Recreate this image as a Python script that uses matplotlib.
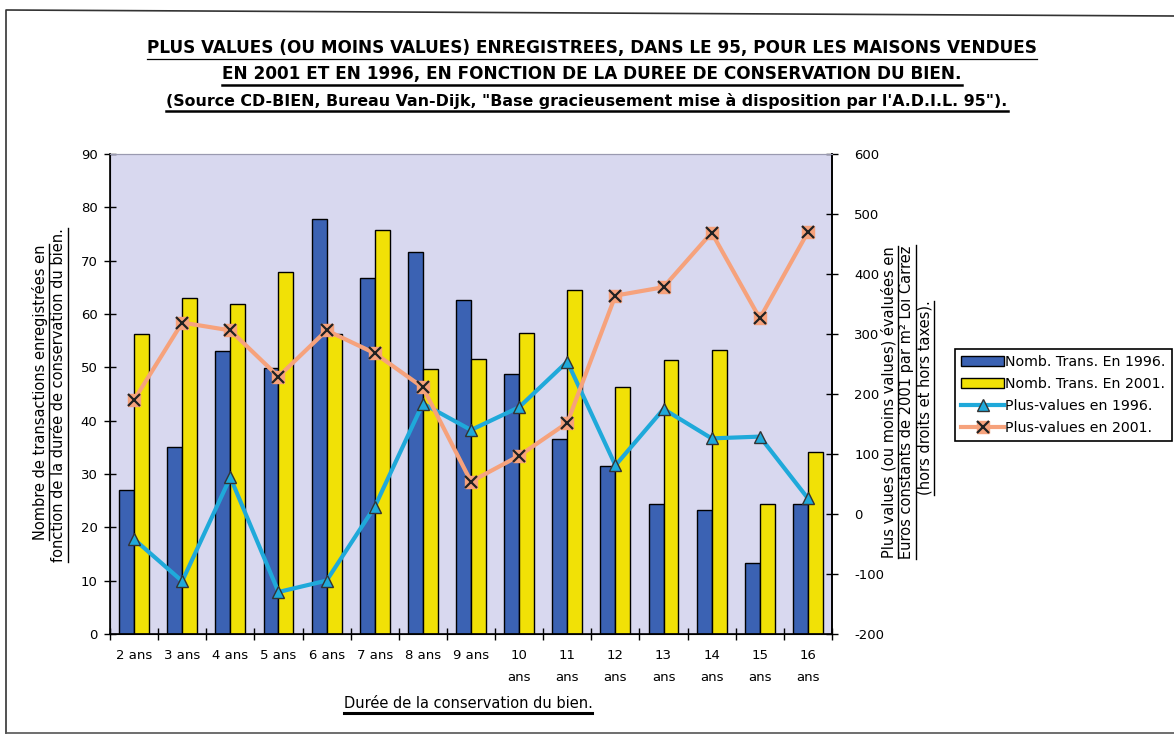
import numpy as np
import matplotlib
matplotlib.use("Agg")
import matplotlib.pyplot as plt
from matplotlib.lines import Line2D
from matplotlib.patches import Patch
from matplotlib.legend_handler import HandlerTuple

# durée de conservation (catégories de l'axe x)
categories = ["2 ans", "3 ans", "4 ans", "5 ans", "6 ans", "7 ans", "8 ans", "9 ans",
              "10\nans", "11\nans", "12\nans", "13\nans", "14\nans", "15\nans", "16\nans"]

# nombre de transactions (axe gauche)
trans_1996 = [27, 35, 53, 49.8, 77.8, 66.7, 71.7, 62.6, 48.8, 36.5, 31.5, 24.4, 23.3, 13.3, 24.3]
trans_2001 = [56.2, 63, 61.8, 67.9, 56.2, 75.8, 49.6, 51.5, 56.4, 64.5, 46.4, 51.3, 53.3, 24.3, 34.2]

# plus-values en euros constants (axe droit)
pv_1996 = [-42, -112, 61, -130, -111, 12, 184, 140, 178, 254, 81, 175, 126, 129, 26]
pv_2001 = [190, 319, 306, 229, 306, 268, 211, 54, 97, 152, 364, 378, 469, 326, 470]

W, H = 1174, 737
BLUE = "#3b62b3"
YELLOW = "#f1e106"
CYAN = "#1fa9da"
ORANGE = "#f6a27c"
BG = "#d8d8ef"

plt.rcParams["font.family"] = ["DejaVu Sans"]
plt.rcParams["axes.unicode_minus"] = False

fig = plt.figure(figsize=(W / 100, H / 100), dpi=100)
ax = fig.add_axes([110 / W, 1 - 634 / H, 722 / W, 480 / H])
ax.set_facecolor(BG)

x = np.arange(len(categories))
bw = 0.31
ax.bar(x - bw / 2, trans_1996, bw, color=BLUE, edgecolor="black", linewidth=1.0, zorder=2)
ax.bar(x + bw / 2, trans_2001, bw, color=YELLOW, edgecolor="black", linewidth=1.0, zorder=2)

ax.set_xlim(-0.5, len(categories) - 0.5)
ax.set_ylim(0, 90)
ax.set_yticks(np.arange(0, 91, 10))
ax.tick_params(axis="y", direction="inout", length=8, width=1, labelsize=9.5, pad=5)
ax.set_xticks(np.arange(-0.5, len(categories), 1))
ax.set_xticklabels([])
ax.set_xticks(x, minor=True)
ax.set_xticklabels(categories, minor=True, fontsize=9.5, linespacing=1.85, va="top")
ax.tick_params(axis="x", which="major", direction="inout", length=8, width=1)
ax.tick_params(axis="x", which="minor", length=0, pad=11)
for sp in ["left", "bottom", "right"]:
    ax.spines[sp].set_linewidth(1.2)
ax.spines["top"].set_color("#9a9ab0")

ax2 = ax.twinx()
ax2.set_ylim(-200, 600)
ax2.set_yticks(np.arange(-200, 601, 100))
ax2.tick_params(axis="y", direction="inout", length=8, width=1, labelsize=9.5, pad=12)
ax2.spines["right"].set_linewidth(1.2)
ax2.spines["top"].set_color("#9a9ab0")

ax2.plot(x, pv_1996, color=CYAN, linewidth=3, zorder=3)
ax2.plot(x, pv_1996, linestyle="none", marker="^", markersize=8, markerfacecolor=CYAN,
         markeredgecolor="#333333", markeredgewidth=1, zorder=4)
ax2.plot(x, pv_2001, color=ORANGE, linewidth=3, zorder=3)
ax2.plot(x, pv_2001, linestyle="none", marker="s", markersize=9, color=ORANGE, zorder=4)
ax2.plot(x, pv_2001, linestyle="none", marker="x", markersize=9, markeredgecolor="#222222",
         markeredgewidth=1.6, zorder=5)

# légende
h_b = Patch(facecolor=BLUE, edgecolor="black")
h_y = Patch(facecolor=YELLOW, edgecolor="black")
h_c = (Line2D([], [], color=CYAN, linewidth=3),
       Line2D([], [], linestyle="none", marker="^", markersize=8, markerfacecolor=CYAN,
              markeredgecolor="#333333"))
h_o = (Line2D([], [], color=ORANGE, linewidth=3),
       Line2D([], [], linestyle="none", marker="s", markersize=9, color=ORANGE),
       Line2D([], [], linestyle="none", marker="x", markersize=9, markeredgecolor="#222222",
              markeredgewidth=1.6))
leg = fig.legend([h_b, h_y, h_c, h_o],
                 ["Nomb. Trans. En 1996.", "Nomb. Trans. En 2001.",
                  "Plus-values en 1996.", "Plus-values en 2001."],
                 handler_map={tuple: HandlerTuple(ndivide=1, pad=0)},
                 loc="upper left", bbox_to_anchor=(955 / W, 1 - 349 / H),
                 fontsize=10.2, handlelength=3.0, handletextpad=0.1, labelspacing=0.55,
                 borderpad=0.45, borderaxespad=0, fancybox=False, framealpha=1)
leg.get_frame().set_edgecolor("black")
leg.get_frame().set_linewidth(1.2)

# titres
t1 = fig.text(592 / W, 1 - 48 / H,
              "PLUS VALUES (OU MOINS VALUES) ENREGISTREES, DANS LE 95, POUR LES MAISONS VENDUES",
              ha="center", va="center", fontsize=12.2, fontweight="bold")
t2 = fig.text(592 / W, 1 - 74 / H,
              "EN 2001 ET EN 1996, EN FONCTION DE LA DUREE DE CONSERVATION DU BIEN.",
              ha="center", va="center", fontsize=12.2, fontweight="bold")
t3 = fig.text(587 / W, 1 - 101 / H,
              "(Source CD-BIEN, Bureau Van-Dijk, \"Base gracieusement mise à disposition par l'A.D.I.L. 95\").",
              ha="center", va="center", fontsize=11.4, fontweight="bold")

yl1 = fig.text(40 / W, 1 - 392 / H, "Nombre de transactions enregistrées en",
               rotation=90, ha="center", va="center", fontsize=10.5)
yl2 = fig.text(59 / W, 1 - 395 / H, "fonction de la durée de conservation du bien.",
               rotation=90, ha="center", va="center", fontsize=10.5)
yr1 = fig.text(889 / W, 1 - 402 / H, "Plus values (ou moins values) évaluées en",
               rotation=90, ha="center", va="center", fontsize=10.5)
yr2 = fig.text(907 / W, 1 - 402 / H, "Euros constants de 2001 par m² Loi Carrez",
               rotation=90, ha="center", va="center", fontsize=10.5)
yr3 = fig.text(925 / W, 1 - 398 / H, "(hors droits et hors taxes).",
               rotation=90, ha="center", va="center", fontsize=10.5)
xl = fig.text(468 / W, 1 - 703 / H, "Durée de la conservation du bien.",
              ha="center", va="center", fontsize=10.5)

# soulignements
fig.canvas.draw()
renderer = fig.canvas.get_renderer()


def underline(t, lw, pad=2, vertical=False):
    bb = t.get_window_extent(renderer)
    if vertical:
        xx = bb.x1 + pad
        fig.add_artist(Line2D([xx / W, xx / W], [bb.y0 / H, bb.y1 / H], color="black",
                              linewidth=lw, transform=fig.transFigure))
    else:
        yy = bb.y0 - pad
        fig.add_artist(Line2D([bb.x0 / W, bb.x1 / W], [yy / H, yy / H], color="black",
                              linewidth=lw, transform=fig.transFigure))


underline(t1, 0.9)
underline(t2, 1.8)
underline(t3, 1.8)
for t in [yl1, yl2, yr1, yr2, yr3]:
    underline(t, 1.0, pad=1, vertical=True)
underline(xl, 2.2)

# cadre de la page
fig.add_artist(Line2D([6 / W, 6 / W, 1174 / W], [1 - 733 / H, 1 - 10 / H, 1 - 16 / H],
                      color="#333333", linewidth=1.2, transform=fig.transFigure))
fig.add_artist(Line2D([6 / W, 1174 / W], [1 - 733 / H, 1 - 733 / H],
                      color="#555555", linewidth=1.2, transform=fig.transFigure))

fig.savefig("out.png", dpi=100)
